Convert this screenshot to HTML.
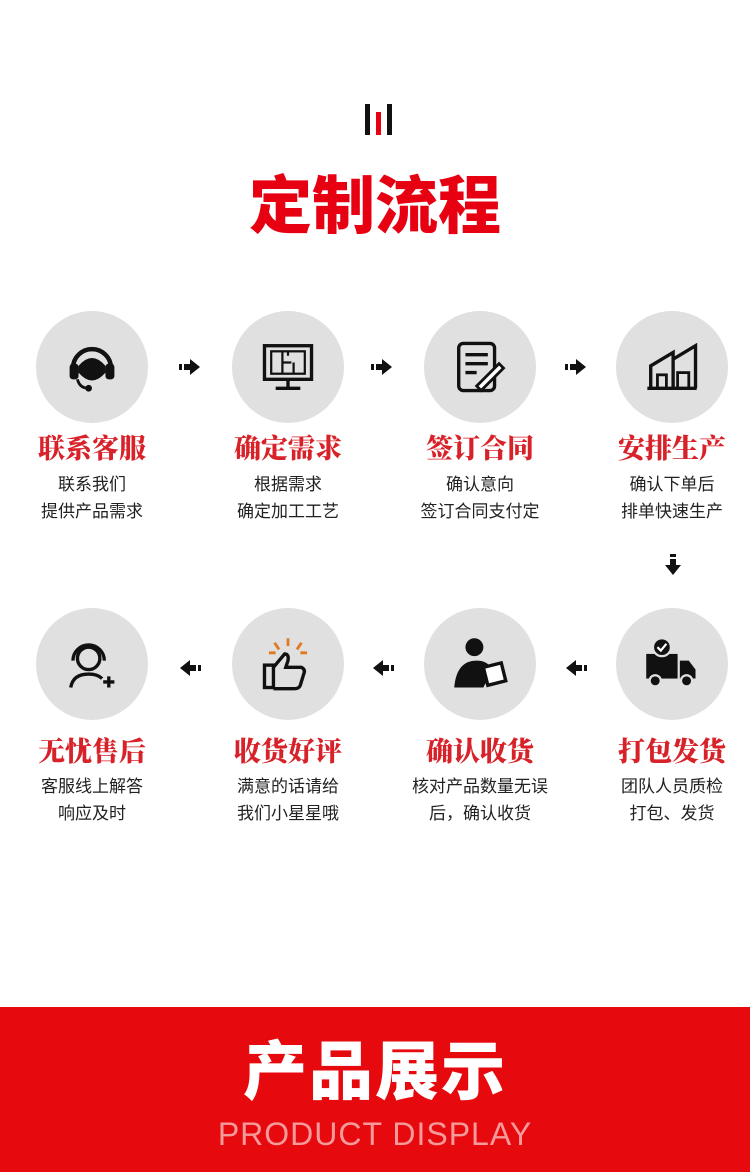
<!DOCTYPE html>
<html><head><meta charset="utf-8"><style>
body{margin:0;width:750px;height:1172px;background:#fff;position:relative;overflow:hidden;font-family:"Liberation Sans","Noto Sans CJK SC",sans-serif}
.c{position:absolute;width:112px;height:112px;border-radius:50%;background:#e0e0e0}
.c svg{position:absolute;left:28px;top:28px}
.t{position:absolute;width:190px;text-align:center;font-family:"Noto Serif CJK SC",serif;font-weight:900;font-size:27px;color:#d8222a}
.s{position:absolute;width:190px;text-align:center;font-size:17px;color:#222;line-height:27px}
.a{position:absolute;width:22px;height:16px}
</style></head><body>
<div style="position:absolute;left:365px;top:104px;width:5px;height:31px;background:#111"></div>
<div style="position:absolute;left:376px;top:112px;width:5px;height:23px;background:#e60012"></div>
<div style="position:absolute;left:387px;top:104px;width:5px;height:31px;background:#111"></div>
<div style="position:absolute;left:0;width:750px;top:170px;text-align:center;font-size:63px;font-weight:900;color:#e60012;line-height:74px">定制流程</div>

<!-- row 1 -->
<div class="c" style="left:36px;top:311px"><svg width="56" height="56" viewBox="0 0 50 50"><path d="M8 26a17 17 0 0 1 34 0" fill="none" stroke="#111" stroke-width="4"/><rect x="5" y="22" width="8" height="14" rx="3" fill="#111"/><rect x="37" y="22" width="8" height="14" rx="3" fill="#111"/><path d="M13 24q12-14 24 0v6q-12 14-24 0z" fill="#111"/><path d="M12 36q2 8 10 8" fill="none" stroke="#111" stroke-width="2.5"/><circle cx="22" cy="44" r="3" fill="#111"/></svg></div>
<div class="c" style="left:232px;top:311px"><svg width="56" height="56" viewBox="0 0 50 50"><rect x="4" y="6" width="42" height="30" fill="none" stroke="#111" stroke-width="3"/><rect x="10" y="11" width="30" height="20" fill="none" stroke="#111" stroke-width="2"/><path d="M20 11v20M20 21h8M25 11v4M30 21v10" stroke="#111" stroke-width="2"/><path d="M25 36v7M14 44h22" stroke="#111" stroke-width="3"/></svg></div>
<div class="c" style="left:424px;top:311px"><svg width="56" height="56" viewBox="0 0 50 50"><rect x="6" y="4" width="32" height="42" rx="4" fill="none" stroke="#111" stroke-width="3"/><path d="M12 14h20M12 22h20M12 30h10" stroke="#111" stroke-width="3"/><path d="M22 42l20-20 4 4-20 20z" fill="#fff" stroke="#111" stroke-width="2.5"/></svg></div>
<div class="c" style="left:616px;top:311px"><svg width="56" height="56" viewBox="0 0 50 50"><path d="M3 44h44M6 44V24l20-12v32M26 18l20-12v38" fill="none" stroke="#111" stroke-width="3"/><rect x="12" y="32" width="8" height="12" fill="none" stroke="#111" stroke-width="2.5"/><rect x="30" y="30" width="10" height="14" fill="none" stroke="#111" stroke-width="2.5"/></svg></div>
<div class="t" style="left:-3px;top:427px">联系客服</div>
<div class="t" style="left:193px;top:427px">确定需求</div>
<div class="t" style="left:385px;top:427px">签订合同</div>
<div class="t" style="left:577px;top:427px">安排生产</div>
<div class="s" style="left:-3px;top:471px">联系我们<br>提供产品需求</div>
<div class="s" style="left:193px;top:471px">根据需求<br>确定加工工艺</div>
<div class="s" style="left:385px;top:471px">确认意向<br>签订合同支付定</div>
<div class="s" style="left:577px;top:471px">确认下单后<br>排单快速生产</div>

<svg class="a" style="left:179px;top:359px" viewBox="0 0 22 16"><rect x="0" y="5" width="3" height="6" fill="#111"/><rect x="5" y="5" width="7" height="6" fill="#111"/><path d="M11 0l10 8-10 8z" fill="#111"/></svg>
<svg class="a" style="left:371px;top:359px" viewBox="0 0 22 16"><rect x="0" y="5" width="3" height="6" fill="#111"/><rect x="5" y="5" width="7" height="6" fill="#111"/><path d="M11 0l10 8-10 8z" fill="#111"/></svg>
<svg class="a" style="left:565px;top:359px" viewBox="0 0 22 16"><rect x="0" y="5" width="3" height="6" fill="#111"/><rect x="5" y="5" width="7" height="6" fill="#111"/><path d="M11 0l10 8-10 8z" fill="#111"/></svg>
<svg style="position:absolute;left:665px;top:554px" width="16" height="22" viewBox="0 0 16 22"><rect x="5" y="0" width="6" height="3" fill="#111"/><rect x="5" y="5" width="6" height="7" fill="#111"/><path d="M0 11h16l-8 10z" fill="#111"/></svg>

<!-- row 2 -->
<div class="c" style="left:36px;top:608px"><svg width="56" height="56" viewBox="0 0 50 50"><circle cx="22" cy="20" r="10" fill="none" stroke="#111" stroke-width="3"/><path d="M8 22a14 14 0 0 1 28 0" fill="none" stroke="#111" stroke-width="3"/><path d="M6 46q2-12 16-12q8 0 12 4" fill="none" stroke="#111" stroke-width="3"/><path d="M40 36v10M35 41h10" stroke="#111" stroke-width="3"/></svg></div>
<div class="c" style="left:232px;top:608px"><svg width="56" height="56" viewBox="0 0 50 50"><path d="M25 2v7M13 6l4 6M37 6l-4 6M8 15h6M36 15h6" stroke="#e07a20" stroke-width="2.5"/><rect x="4" y="26" width="8" height="20" fill="none" stroke="#111" stroke-width="3"/><path d="M12 28l10-12q4 0 3 6l-2 6h14q4 2 2 6l-3 10q-1 3-5 3H12" fill="none" stroke="#111" stroke-width="3"/></svg></div>
<div class="c" style="left:424px;top:608px"><svg width="56" height="56" viewBox="0 0 50 50"><circle cx="20" cy="10" r="8" fill="#111"/><path d="M2 46q2-24 20-24q10 0 14 8l-8 16z" fill="#111"/><path d="M28 28l16-4 4 16-16 4z" fill="#fff" stroke="#111" stroke-width="3"/></svg></div>
<div class="c" style="left:616px;top:608px"><svg width="56" height="56" viewBox="0 0 50 50"><rect x="2" y="16" width="28" height="22" fill="#111"/><path d="M32 22h8l6 8v8H32z" fill="#111"/><circle cx="10" cy="40" r="5" fill="#111" stroke="#e0e0e0" stroke-width="2"/><circle cx="38" cy="40" r="5" fill="#111" stroke="#e0e0e0" stroke-width="2"/><circle cx="16" cy="10" r="8" fill="#111" stroke="#e0e0e0" stroke-width="2"/><path d="M12 10l3 3 5-6" fill="none" stroke="#fff" stroke-width="2"/></svg></div>
<div class="t" style="left:-3px;top:730px">无忧售后</div>
<div class="t" style="left:193px;top:730px">收货好评</div>
<div class="t" style="left:385px;top:730px">确认收货</div>
<div class="t" style="left:577px;top:730px">打包发货</div>
<div class="s" style="left:-3px;top:773px">客服线上解答<br>响应及时</div>
<div class="s" style="left:193px;top:773px">满意的话请给<br>我们小星星哦</div>
<div class="s" style="left:385px;top:773px">核对产品数量无误<br>后，确认收货</div>
<div class="s" style="left:577px;top:773px">团队人员质检<br>打包、发货</div>

<svg class="a" style="left:179px;top:660px" viewBox="0 0 22 16"><rect x="19" y="5" width="3" height="6" fill="#111"/><rect x="10" y="5" width="7" height="6" fill="#111"/><path d="M11 0L1 8l10 8z" fill="#111"/></svg>
<svg class="a" style="left:372px;top:660px" viewBox="0 0 22 16"><rect x="19" y="5" width="3" height="6" fill="#111"/><rect x="10" y="5" width="7" height="6" fill="#111"/><path d="M11 0L1 8l10 8z" fill="#111"/></svg>
<svg class="a" style="left:565px;top:660px" viewBox="0 0 22 16"><rect x="19" y="5" width="3" height="6" fill="#111"/><rect x="10" y="5" width="7" height="6" fill="#111"/><path d="M11 0L1 8l10 8z" fill="#111"/></svg>

<div style="position:absolute;left:0;top:1007px;width:750px;height:165px;background:#e60a0f"></div>
<div style="position:absolute;left:0;top:1032px;width:750px;text-align:center;font-size:64px;font-weight:900;color:#fff;line-height:80px;letter-spacing:2px">产品展示</div>
<div style="position:absolute;left:0;top:1114px;width:750px;text-align:center;font-size:32px;color:#f59a9a;line-height:40px;letter-spacing:1px">PRODUCT DISPLAY</div>
</body></html>
